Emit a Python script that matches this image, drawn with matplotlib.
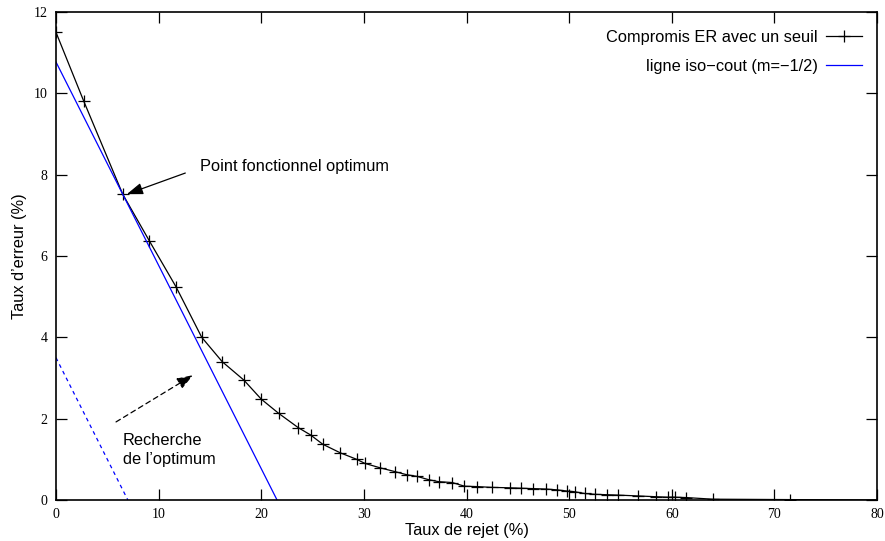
import matplotlib.pyplot as plt
import numpy as np

# Compromis erreur/rejet
taux_rejet = [0.0, 2.7, 6.5, 9.1, 11.7, 14.2, 16.2, 18.3, 20.0, 21.7, 23.6, 24.8,
              26.0, 27.7, 29.3, 30.1, 31.6, 33.0, 34.2, 35.2, 36.3, 37.3, 38.6,
              39.8, 41.0, 42.5, 44.2, 45.3, 46.5, 47.7, 48.8, 49.8, 50.6, 51.5,
              52.5, 53.7, 54.8, 56.7, 58.5, 59.6, 60.3, 61.4, 64.0, 71.5, 80.0]
taux_erreur = [11.5, 9.81, 7.52, 6.37, 5.24, 4.0, 3.40, 2.95, 2.48, 2.13, 1.78, 1.60,
               1.37, 1.16, 1.00, 0.90, 0.79, 0.70, 0.62, 0.58, 0.50, 0.45, 0.43,
               0.34, 0.33, 0.31, 0.30, 0.29, 0.28, 0.27, 0.25, 0.22, 0.20, 0.16,
               0.14, 0.13, 0.12, 0.10, 0.08, 0.07, 0.07, 0.06, 0.02, 0.01, 0.0]

# lignes iso-cout, pente m = -1/2
pente = -0.5
ordonnee_opt = 10.77
ordonnee_init = 3.5

fig = plt.figure(figsize=(8.85, 5.41), dpi=100)
ax = fig.add_axes([56 / 885, 41 / 541, 821 / 885, 488 / 541])

sans = 'Liberation Sans'
serif = 'Liberation Serif'
fs = 11.8

ax.plot(taux_rejet, taux_erreur, color='black', lw=0.9, marker='+', ms=9, mew=0.9,
        label='Compromis ER avec un seuil')

x_opt = np.array([0, -ordonnee_opt / pente])
ax.plot(x_opt, ordonnee_opt + pente * x_opt, color='blue', lw=0.9,
        label='ligne iso\u2212cout (m=\u22121/2)')
x_init = np.array([0, -ordonnee_init / pente])
ax.plot(x_init, ordonnee_init + pente * x_init, color='blue', lw=0.9, ls=(0, (3, 3)))

# annotations
ax.annotate('', xy=(6.9, 7.52), xytext=(12.6, 8.04),
            arrowprops=dict(arrowstyle='-|>,head_length=0.7,head_width=0.25',
                            color='black', lw=0.9,
                            mutation_scale=14, shrinkA=0, shrinkB=0))
ax.text(14.0, 8.2, 'Point fonctionnel optimum', family=sans, fontsize=fs,
        va='center', ha='left')
ax.annotate('', xy=(13.35, 3.07), xytext=(5.85, 1.92),
            arrowprops=dict(arrowstyle='-|>,head_length=0.7,head_width=0.25',
                            color='black', lw=0.9, ls=(0, (4, 3)),
                            mutation_scale=14, shrinkA=0, shrinkB=0))
ax.text(6.5, 1.23, "Recherche\nde l\u2019optimum", family=sans, fontsize=fs,
        va='center', ha='left', linespacing=1.35)

ax.set_xlim(0, 80)
ax.set_ylim(0, 12)
ax.set_xticks(np.arange(0, 81, 10))
ax.set_yticks(np.arange(0, 13, 2))
ax.tick_params(direction='in', length=8, width=0.9, top=True, right=True,
               labelsize=10, pad=6)
for lab in ax.get_xticklabels() + ax.get_yticklabels():
    lab.set_family(serif)
for s in ax.spines.values():
    s.set_linewidth(1.2)

ax.set_xlabel('Taux de rejet (%)', family=sans, fontsize=fs, labelpad=1)
ax.set_ylabel('Taux d\u2019erreur (%)', family=sans, fontsize=fs, labelpad=5)

leg = ax.legend(loc='upper right', bbox_to_anchor=(0.9817, 0.963), frameon=False,
                markerfirst=False, numpoints=1, prop={'family': sans, 'size': fs},
                handlelength=2.2, labelspacing=0.85, borderaxespad=0, borderpad=0,
                handletextpad=0.5)

fig.savefig('out.png', dpi=100)
